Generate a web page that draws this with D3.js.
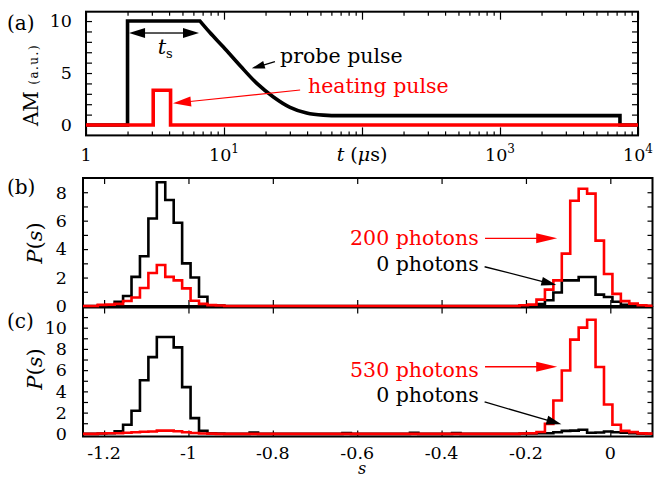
<!DOCTYPE html>
<html><head><meta charset="utf-8">
<script src="https://cdn.jsdelivr.net/npm/d3@7"></script>
<style>
body{margin:0;background:#fff}
svg{display:block}
text{font-family:"DejaVu Serif","Liberation Serif",serif;fill:#000}
</style>
</head><body>
<svg id="chart" width="654" height="478"></svg>
<script>
// ---------------- data ----------------
// panel (a): amplitude modulation vs time (µs)
const probeRiseT = [1, 2, 2, 6.7];
const probeRiseV = [0, 0, 10, 10];
const probeDecayT = [6.7, 7.9, 9.9, 13.1, 17.3, 22.8, 30.1, 39.7, 52.5, 69, 100, 7400];
const probeDecayV = [10, 8.9, 7.5, 5.7, 4.0, 2.7, 1.7, 1.15, 0.95, 0.9, 0.9, 0.9];
const probeEndT = [7400, 7400, 10000];
const probeEndV = [0.9, 0, 0];
const heatT = [1, 3.07, 3.07, 4.1, 4.1, 10000];
const heatV = [0, 0, 3.35, 3.35, 0, 0];
const logTickLabels = [[1, "1", ""], [10, "10", "1"], [1000, "10", "3"], [10000, "10", "4"]];

// panels (b),(c): histograms P(s), bin width 0.02
const binWidth = 0.02;
const histFirstEdge = -1.255;
const histBinCount = 68;
const leftClusterEdge = -1.215;
const rightClusterEdge = -0.215;
const bZeroLeft  = [0.03, 0.05, 0.3, 0.7, 2.05, 3.5, 6.15, 8.7, 7.45, 5.85, 3.0, 2.0, 0.65, 0.05, 0.03];
const bZeroRight = [0.03, 0.05, 0.13, 0.4, 0.95, 1.8, 1.8, 2.04, 2.04, 0.8, 0.63, 0.3, 0.08, 0.05, 0.02, 0];
const b200Left   = [0.08, 0.1, 0.15, 0.35, 0.6, 1.27, 2.32, 2.88, 2.05, 1.8, 1.24, 0.37, 0.15, 0.06, 0.03];
const b200Right  = [0.05, 0.1, 0.45, 1.15, 1.8, 3.68, 7.4, 8.24, 7.9, 4.6, 2.25, 0.85, 0.34, 0.17, 0.05, 0.02];
const cZeroLeft  = [0.03, 0.05, 0.25, 0.85, 2.17, 5.05, 7.23, 9.12, 9.12, 8.14, 4.4, 1.48, 0.28, 0.05, 0.03];
const cZeroRight = [0.03, 0.03, 0.05, 0.05, 0.15, 0.28, 0.3, 0.38, 0.1, 0.13, 0.22, 0.15, 0.1, 0.05, 0.02, 0];
const c530Left   = [0.03, 0.05, 0.05, 0.1, 0.15, 0.2, 0.22, 0.3, 0.3, 0.25, 0.15, 0.08, 0.03, 0.02, 0];
const c530Right  = [0.03, 0.05, 0.17, 0.94, 3.14, 5.97, 8.87, 10.0, 10.75, 6.29, 2.77, 0.85, 0.28, 0.16, 0.04, 0.02];
const cZeroBlipEdges = [-0.855, -0.635, -0.475, -0.375];
const cZeroBlipVals  = [0.12, 0.08, 0.1, 0.08];
const sTicks = [-1.2, -1, -0.8, -0.6, -0.4, -0.2, 0];
const sTickLabels = ["-1.2", "-1", "-0.8", "-0.6", "-0.4", "-0.2", "0"];

// ---------------- drawing ----------------
const svg = d3.select("#chart");
const frameLayer = svg.append("g");
const dataLayer = svg.append("g");
const annoLayer = svg.append("g");
const zip = (a, b) => a.map((d, i) => [d, b[i]]);

function arrow(g, x1, y1, x2, y2, color, hl, hw, sw) {
  const dx = x2 - x1, dy = y2 - y1, L = Math.hypot(dx, dy), ux = dx / L, uy = dy / L;
  const bx = x2 - ux * hl, by = y2 - uy * hl;
  g.append("line").attr("x1", x1).attr("y1", y1).attr("x2", bx + ux).attr("y2", by + uy)
    .attr("stroke", color).attr("stroke-width", sw);
  g.append("path")
    .attr("d", `M${x2},${y2}L${bx - uy * hw / 2},${by + ux * hw / 2}L${bx + uy * hw / 2},${by - ux * hw / 2}Z`)
    .attr("fill", color);
}
function styleAxis(g) {
  g.select(".domain").remove();
  g.selectAll(".tick line").attr("stroke", "#000").attr("stroke-width", 1.2);
}

// ======== panel (a) ========
const A = {l: 86, r: 638, t: 11.7, b: 135.4};
const xA = d3.scaleLog().domain([1, 10000]).range([A.l, A.r]);
const yA = d3.scaleLinear().domain([-1, 10.9]).range([A.b, A.t]);
const gA = frameLayer.append("g");

const majorsA = [1, 10, 100, 1000, 10000];
const minorsA = [];
for (let d = 1; d < 10000; d *= 10) for (let k = 2; k <= 9; k++) minorsA.push(d * k);
gA.append("g").attr("transform", `translate(0,${A.b})`).call(d3.axisBottom(xA).tickValues(majorsA).tickSize(-8).tickFormat("")).call(styleAxis);
gA.append("g").attr("transform", `translate(0,${A.b})`).call(d3.axisBottom(xA).tickValues(minorsA).tickSize(-4).tickFormat("")).call(styleAxis);
gA.append("g").attr("transform", `translate(0,${A.t})`).call(d3.axisTop(xA).tickValues(majorsA).tickSize(-8).tickFormat("")).call(styleAxis);
gA.append("g").attr("transform", `translate(0,${A.t})`).call(d3.axisTop(xA).tickValues(minorsA).tickSize(-4).tickFormat("")).call(styleAxis);
const yTicksA = d3.range(0, 11);
gA.append("g").attr("transform", `translate(${A.l},0)`).call(d3.axisLeft(yA).tickValues(yTicksA).tickSize(-6).tickFormat("")).call(styleAxis);
gA.append("g").attr("transform", `translate(${A.r},0)`).call(d3.axisRight(yA).tickValues(yTicksA).tickSize(-6).tickFormat("")).call(styleAxis);

gA.append("rect").attr("x", A.l).attr("y", A.t).attr("width", A.r - A.l).attr("height", A.b - A.t)
  .attr("fill", "none").attr("stroke", "#000").attr("stroke-width", 2);

// y tick labels
[0, 5, 10].forEach(v => gA.append("text").attr("x", 72).attr("y", yA(v)).attr("dy", "0.36em")
  .attr("text-anchor", "end").attr("font-size", 17.5).text(v));
// x tick labels
logTickLabels.forEach(([v, base, sup]) => {
  const t = gA.append("text").attr("x", xA(v)).attr("y", 161).attr("text-anchor", "middle").attr("font-size", 17.5);
  t.append("tspan").text(base);
  if (sup) t.append("tspan").attr("dy", -8).attr("font-size", 12).text(sup);
});
// x axis title
{
  const t = gA.append("text").attr("x", xA(100)).attr("y", 161).attr("text-anchor", "middle").attr("font-size", 19);
  t.append("tspan").attr("font-style", "italic").text("t");
  t.append("tspan").text(" (");
  t.append("tspan").attr("font-style", "italic").text("μ");
  t.append("tspan").text("s)");
}
// y axis title
{
  const t = gA.append("text").attr("transform", "translate(38,85) rotate(-90)").attr("text-anchor", "middle");
  t.append("tspan").attr("font-size", 20).text("AM ");
  t.append("tspan").attr("font-size", 12).attr("letter-spacing", 1.5).text("(a.u.)");
}
gA.append("text").attr("x", 7).attr("y", 30).attr("font-size", 20).text("(a)");

// curves
svg.append("clipPath").attr("id", "clipA").append("rect")
  .attr("x", A.l).attr("y", A.t).attr("width", A.r - A.l).attr("height", A.b - A.t);
const lineA = d3.line().x(d => xA(d[0])).y(d => yA(d[1]));
const pRise = lineA.curve(d3.curveLinear)(zip(probeRiseT, probeRiseV));
const pDecay = lineA.curve(d3.curveMonotoneX)(zip(probeDecayT, probeDecayV));
const pEnd = lineA.curve(d3.curveLinear)(zip(probeEndT, probeEndV));
dataLayer.append("path").attr("clip-path", "url(#clipA)")
  .attr("d", pRise + pDecay.replace(/^M/, "L") + pEnd.replace(/^M/, "L"))
  .attr("fill", "none").attr("stroke", "#000").attr("stroke-width", 3.6).attr("stroke-linejoin", "miter");
dataLayer.append("path").attr("clip-path", "url(#clipA)")
  .attr("d", lineA.curve(d3.curveLinear)(zip(heatT, heatV)))
  .attr("fill", "none").attr("stroke", "#ff0000").attr("stroke-width", 3.6).attr("stroke-linejoin", "miter");

// annotations (a)
{
  const y0 = yA(8.85);
  const xl = xA(2) + 1.5, xr = xA(6.7) - 1, xm = (xl + xr) / 2;
  arrow(annoLayer, xm, y0, xl, y0, "#000", 16, 10, 1.3);
  arrow(annoLayer, xm, y0, xr, y0, "#000", 16, 10, 1.3);
  const t = annoLayer.append("text").attr("x", xA(3.75)).attr("y", yA(6.8)).attr("text-anchor", "middle");
  t.append("tspan").attr("font-style", "italic").attr("font-size", 21).text("t");
  t.append("tspan").attr("font-size", 13).attr("dy", 4).text("s");
}
arrow(annoLayer, xA(23.4), yA(6.09), xA(15.9), yA(5.45), "#000", 13, 8, 1.3);
annoLayer.append("text").attr("x", xA(25.5)).attr("y", yA(6.0)).attr("font-size", 20.5).text("probe pulse");
arrow(annoLayer, xA(35.6), yA(3.37), xA(4.27), yA(2.09), "#ff0000", 18, 10, 1.2);
annoLayer.append("text").attr("x", xA(40.6)).attr("y", yA(3.05)).attr("font-size", 20.5).style("fill", "#ff0000").text("heating pulse");

// ======== panels (b),(c) ========
const xS = d3.scaleLinear().domain([-1.25, 0.1]).range([83, 652.5]);

function buildHist(left, right, blipEdges, blipVals) {
  const v = new Array(histBinCount).fill(0);
  const li = Math.round((leftClusterEdge - histFirstEdge) / binWidth);
  const ri = Math.round((rightClusterEdge - histFirstEdge) / binWidth);
  left.forEach((d, i) => v[li + i] = d);
  right.forEach((d, i) => v[ri + i] = d);
  blipEdges.forEach((s, k) => { v[Math.round((s - histFirstEdge) / binWidth)] = blipVals[k]; });
  const pts = v.map((d, i) => [histFirstEdge + i * binWidth, d]);
  pts.push([histFirstEdge + histBinCount * binWidth, v[histBinCount - 1]]);
  return pts;
}

function histPanel(cfg) {
  const g = frameLayer.append("g");
  const y = d3.scaleLinear().domain(cfg.yDomain).range([cfg.b, cfg.t]);
  const L = 83, R = 652.5;
  g.append("g").attr("transform", `translate(0,${cfg.b})`).call(d3.axisBottom(xS).tickValues(sTicks).tickSize(-6).tickFormat("")).call(styleAxis);
  g.append("g").attr("transform", `translate(0,${cfg.t})`).call(d3.axisTop(xS).tickValues(sTicks).tickSize(-6).tickFormat("")).call(styleAxis);
  g.append("g").attr("transform", `translate(${L},0)`).call(d3.axisLeft(y).tickValues(cfg.yTicks).tickSize(-5).tickFormat("")).call(styleAxis);
  g.append("g").attr("transform", `translate(${R},0)`).call(d3.axisRight(y).tickValues(cfg.yTicks).tickSize(-5).tickFormat("")).call(styleAxis);
  g.append("rect").attr("x", L).attr("y", cfg.t).attr("width", R - L).attr("height", cfg.b - cfg.t)
    .attr("fill", "none").attr("stroke", "#000").attr("stroke-width", 2);
  cfg.yLabels.forEach(v => g.append("text").attr("x", 67).attr("y", y(v)).attr("dy", "0.36em")
    .attr("text-anchor", "end").attr("font-size", 17.5).text(v));
  const yt = g.append("text").attr("transform", `translate(42,${cfg.ylabY}) rotate(-90)`)
    .attr("text-anchor", "middle").attr("font-size", 21);
  yt.append("tspan").attr("font-style", "italic").text("P");
  yt.append("tspan").text("(");
  yt.append("tspan").attr("font-style", "italic").text("s");
  yt.append("tspan").text(")");
  g.append("text").attr("x", 7).attr("y", cfg.panelLabelY).attr("font-size", 20).text(cfg.panelLabel);

  const cid = "clip" + cfg.panelLabel.replace(/\W/g, "");
  svg.append("clipPath").attr("id", cid).append("rect")
    .attr("x", L).attr("y", cfg.t - 2).attr("width", R - L).attr("height", cfg.b - cfg.t + 4);
  const line = d3.line().curve(d3.curveStepAfter).x(d => xS(d[0])).y(d => y(d[1]));
  dataLayer.append("path").attr("clip-path", `url(#${cid})`).attr("d", line(cfg.black))
    .attr("fill", "none").attr("stroke", "#000").attr("stroke-width", 2.6);
  dataLayer.append("path").attr("clip-path", `url(#${cid})`).attr("d", line(cfg.red))
    .attr("fill", "none").attr("stroke", "#ff0000").attr("stroke-width", 2.6);

  // annotations
  const xe = xS(-0.312);
  annoLayer.append("text").attr("x", xe).attr("y", y(cfg.redTextV)).attr("text-anchor", "end")
    .attr("font-size", 20.5).style("fill", "#ff0000").text(cfg.redText);
  arrow(annoLayer, xS(-0.297), y(cfg.redArrowV), xS(-0.126), y(cfg.redArrowV), "#ff0000", 21, 10, 1.3);
  annoLayer.append("text").attr("x", xe).attr("y", y(cfg.blackTextV)).attr("text-anchor", "end")
    .attr("font-size", 20.5).text("0 photons");
  arrow(annoLayer, xS(-0.298), y(cfg.blackArrow[0]), xS(cfg.blackArrow[1]), y(cfg.blackArrow[2]), "#000", 15, 9, 1.3);
  return y;
}

histPanel({
  t: 178, b: 306, yDomain: [0, 9], yTicks: d3.range(0, 9), yLabels: [0, 2, 4, 6, 8],
  ylabY: 243, panelLabel: "(b)", panelLabelY: 194,
  black: buildHist(bZeroLeft, bZeroRight, [], []),
  red: buildHist(b200Left, b200Right, [], []),
  redText: "200 photons", redTextV: 4.29, redArrowV: 4.76,
  blackTextV: 2.46, blackArrow: [2.76, -0.128, 1.48]
});
histPanel({
  t: 307.5, b: 436.5, yDomain: [-0.25, 11.9], yTicks: d3.range(0, 12), yLabels: [0, 2, 4, 6, 8, 10],
  ylabY: 369, panelLabel: "(c)", panelLabelY: 328,
  black: buildHist(cZeroLeft, cZeroRight, cZeroBlipEdges, cZeroBlipVals),
  red: buildHist(c530Left, c530Right, [], []),
  redText: "530 photons", redTextV: 5.38, redArrowV: 6.32,
  blackTextV: 3.02, blackArrow: [3.0, -0.116, 0.9]
});

// bottom s axis labels
sTicks.forEach((v, i) => frameLayer.append("text").attr("x", xS(v)).attr("y", 459).attr("text-anchor", "middle")
  .attr("font-size", 17.5).text(sTickLabels[i]));
frameLayer.append("text").attr("x", xS(-0.6) + 5).attr("y", 474).attr("text-anchor", "middle")
  .attr("font-size", 16).attr("font-style", "italic").text("s");
</script>
</body></html>
